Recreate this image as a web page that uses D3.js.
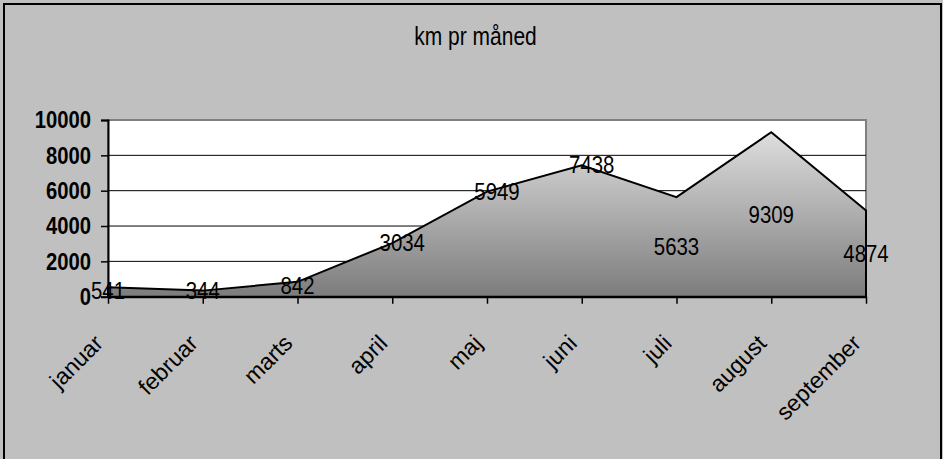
<!DOCTYPE html>
<html>
<head>
<meta charset="utf-8">
<script src="https://cdn.jsdelivr.net/npm/d3@7"></script>
<style>
  html, body { margin: 0; padding: 0; background: #c0c0c0; }
  svg { display: block; }
  text { font-family: "Liberation Sans", Arial, sans-serif; }
</style>
</head>
<body>
<svg id="chart" width="943" height="459"></svg>
<script>
// ---- data ----
const title = "km pr måned";
const months = ["januar", "februar", "marts", "april", "maj", "juni", "juli", "august", "september"];
const km = [541, 344, 842, 3034, 5949, 7438, 5633, 9309, 4874];
const yTicks = [0, 2000, 4000, 6000, 8000, 10000];
// where each data label sits: near the base, on the line, or mid-height of the area
const labelPlacement = ["base", "base", "base", "line", "line", "line", "mid", "mid", "mid"];

// ---- layout ----
const W = 943, H = 459;
const plot = { left: 108, right: 866, top: 120, bottom: 296.7 };

const svg = d3.select("#chart");

// chart area
svg.append("rect").attr("x", 0).attr("y", 0).attr("width", W).attr("height", H).attr("fill", "#c0c0c0");
svg.append("rect").attr("x", 4).attr("y", 4).attr("width", 937).attr("height", H + 10)
  .attr("fill", "none").attr("stroke", "#000").attr("stroke-width", 2);

const x = d3.scalePoint().domain(months).range([plot.left, plot.right]);
const y = d3.scaleLinear().domain([0, 10000]).range([plot.bottom, plot.top]);

// plot area
svg.append("rect").attr("x", plot.left).attr("y", plot.top)
  .attr("width", plot.right - plot.left).attr("height", plot.bottom - plot.top)
  .attr("fill", "#fff").attr("stroke", "#808080").attr("stroke-width", 2);

// gridlines
svg.append("g").selectAll("line").data(yTicks.filter(d => d > 0 && d < 10000)).join("line")
  .attr("x1", plot.left).attr("x2", plot.right)
  .attr("y1", d => y(d)).attr("y2", d => y(d))
  .attr("stroke", "#000").attr("stroke-width", 1);

// gradient
const defs = svg.append("defs");
const grad = defs.append("linearGradient").attr("id", "areaGrad")
  .attr("x1", 0).attr("y1", 0).attr("x2", 0).attr("y2", 1);
grad.append("stop").attr("offset", "0%").attr("stop-color", "#dedede");
grad.append("stop").attr("offset", "100%").attr("stop-color", "#7c7c7c");

const rows = months.map((m, i) => ({ m, v: km[i], p: labelPlacement[i] }));

const area = d3.area().x(d => x(d.m)).y0(y(0)).y1(d => y(d.v));
svg.append("path").datum(rows).attr("d", area(rows) + "Z")
  .attr("fill", "url(#areaGrad)").attr("stroke", "#000").attr("stroke-width", 2)
  .attr("stroke-linejoin", "miter");

// axes
const yAxis = d3.axisLeft(y).tickValues(yTicks).tickSize(7).tickFormat(d3.format("d"));
const gy = svg.append("g").attr("transform", `translate(${plot.left},0)`).call(yAxis);
gy.select(".domain").attr("stroke", "#000").attr("stroke-width", 2);
gy.selectAll(".tick line").attr("stroke", "#000").attr("stroke-width", 1.5);
gy.selectAll(".tick text").attr("x", null).attr("dy", null)
  .attr("font-size", 23).attr("font-weight", "bold").attr("fill", "#000")
  .attr("text-anchor", "end").attr("dominant-baseline", "central")
  .attr("transform", "translate(-17,0) scale(0.88,1)");

const xAxis = d3.axisBottom(x).tickSize(7).tickSizeOuter(0);
const gx = svg.append("g").attr("transform", `translate(0,${plot.bottom})`).call(xAxis);
gx.select(".domain").attr("stroke", "#000").attr("stroke-width", 2);
gx.selectAll(".tick line").attr("stroke", "#000").attr("stroke-width", 1.5);
gx.selectAll(".tick text").attr("y", null).attr("dy", null)
  .attr("font-size", 23).attr("fill", "#000").attr("text-anchor", "end")
  .attr("transform", "translate(-4,48) rotate(-45)");
svg.selectAll(".domain").attr("fill", "none");

// data labels
svg.append("g").selectAll("text").data(rows).join("text")
  .attr("text-anchor", "middle").attr("dominant-baseline", "central")
  .attr("font-size", 24).attr("fill", "#000")
  .attr("transform", d => {
    let cx = x(d.m), cy;
    if (d.p === "mid") cy = (y(d.v) + y(0)) / 2;
    else if (d.p === "line") { cx += 10; cy = y(d.v); }
    else cy = Math.min(y(d.v) + 4, y(0) - 6);
    return `translate(${cx},${cy}) scale(0.85,1)`;
  })
  .text(d => d.v);

// title
svg.append("text").attr("text-anchor", "middle")
  .attr("font-size", 25).attr("fill", "#000")
  .attr("transform", "translate(475.5,45) scale(0.84,1)")
  .text(title);
</script>
</body>
</html>
